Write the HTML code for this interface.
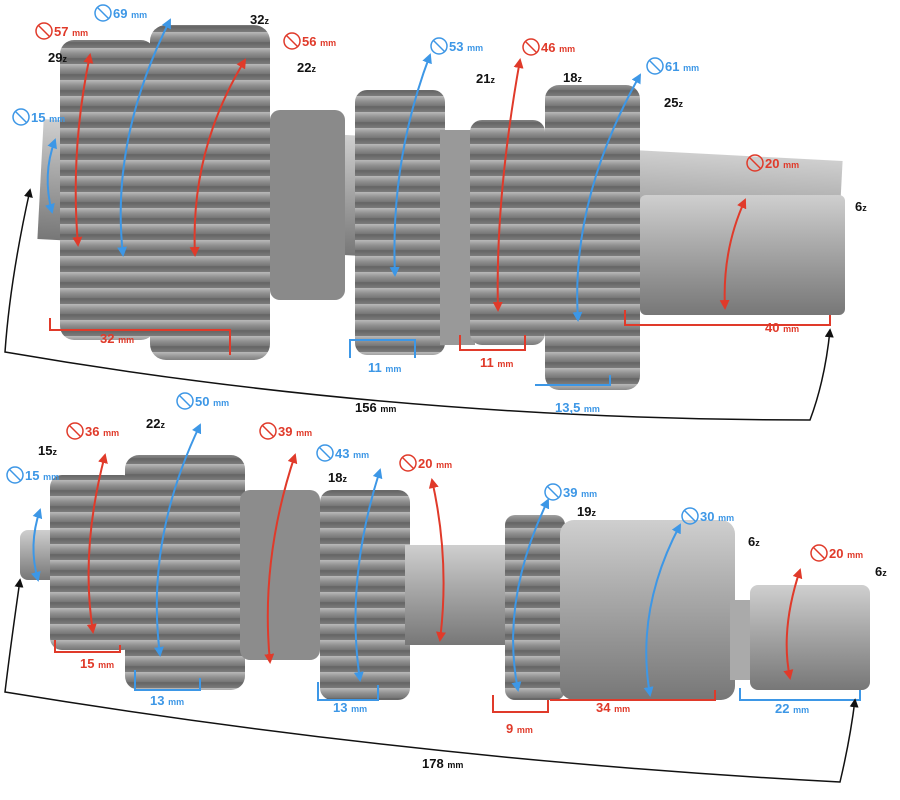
<!DOCTYPE html>
<html><head><meta charset="utf-8"><style>
body{margin:0;background:#fff}
svg{display:block}
text{font-family:"Liberation Sans",sans-serif;font-weight:bold}
.r{fill:#e03a2a}.b{fill:#3d97e6}.k{fill:#111}
.s{font-size:9px}
</style></head><body>
<svg width="900" height="800" viewBox="0 0 900 800" xmlns="http://www.w3.org/2000/svg">
<defs>
<linearGradient id="g" x1="0" y1="0" x2="0" y2="1">
<stop offset="0" stop-color="#b9b9b9"/><stop offset="0.35" stop-color="#8e8e8e"/><stop offset="0.7" stop-color="#6f6f6f"/><stop offset="1" stop-color="#9a9a9a"/></linearGradient>
<linearGradient id="sh" x1="0" y1="0" x2="0" y2="1">
<stop offset="0" stop-color="#cfcfcf"/><stop offset="0.4" stop-color="#ababab"/><stop offset="1" stop-color="#777"/></linearGradient>
<pattern id="t" width="12" height="16" patternUnits="userSpaceOnUse"><rect width="12" height="16" fill="url(#g)"/><rect y="10" width="12" height="6" fill="#5e5e5e" opacity=".5"/></pattern>
<marker id="ar" viewBox="0 0 10 10" refX="8" refY="5" markerWidth="5" markerHeight="5" orient="auto-start-reverse"><path d="M0 0L10 5L0 10z" fill="#e03a2a"/></marker>
<marker id="ab" viewBox="0 0 10 10" refX="8" refY="5" markerWidth="5" markerHeight="5" orient="auto-start-reverse"><path d="M0 0L10 5L0 10z" fill="#3d97e6"/></marker>
<marker id="ak" viewBox="0 0 10 10" refX="8" refY="5" markerWidth="6" markerHeight="6" orient="auto-start-reverse"><path d="M0 0L10 5L0 10z" fill="#111"/></marker>
</defs>
<rect x="40" y="140" width="800" height="120" fill="url(#sh)" transform="rotate(3 440 200)"/>
<rect x="640" y="195" width="205" height="120" rx="6" fill="url(#sh)"/>
<rect x="60" y="40" width="95" height="300" rx="14" fill="url(#t)"/>
<rect x="150" y="25" width="120" height="335" rx="16" fill="url(#t)"/>
<rect x="270" y="110" width="75" height="190" rx="10" fill="#8a8a8a"/>
<rect x="355" y="90" width="90" height="265" rx="12" fill="url(#t)"/>
<rect x="440" y="130" width="35" height="215" fill="#999"/>
<rect x="470" y="120" width="75" height="225" rx="12" fill="url(#t)"/>
<rect x="545" y="85" width="95" height="305" rx="14" fill="url(#t)"/>
<rect x="20" y="530" width="50" height="50" rx="8" fill="url(#sh)"/>
<rect x="50" y="475" width="85" height="175" rx="12" fill="url(#t)"/>
<rect x="125" y="455" width="120" height="235" rx="14" fill="url(#t)"/>
<rect x="240" y="490" width="80" height="170" rx="10" fill="#8c8c8c"/>
<rect x="320" y="490" width="90" height="210" rx="12" fill="url(#t)"/>
<rect x="405" y="545" width="110" height="100" fill="url(#sh)"/>
<rect x="505" y="515" width="60" height="185" rx="10" fill="url(#t)"/>
<rect x="560" y="520" width="175" height="180" rx="14" fill="url(#sh)"/>
<rect x="730" y="600" width="30" height="80" fill="#aaa"/>
<rect x="750" y="585" width="120" height="105" rx="8" fill="url(#sh)"/>

<g fill="none" stroke-width="2">
<g stroke="#e03a2a" marker-start="url(#ar)" marker-end="url(#ar)">
<path d="M90 55 Q70 150 78 245"/>
<path d="M245 60 Q190 150 195 255"/>
<path d="M520 60 Q495 200 498 310"/>
<path d="M745 200 Q722 250 725 308"/>
<path d="M105 455 Q80 550 93 632"/>
<path d="M295 455 Q260 560 270 662"/>
<path d="M432 480 Q450 560 440 640"/>
<path d="M800 570 Q780 630 790 678"/>
</g>
<g stroke="#e03a2a">
<path d="M50 318 V330 H230 V355"/>
<path d="M460 335 V350 H525 V335"/>
<path d="M625 310 V325 H830 V315"/>
<path d="M55 640 V652 H120 V645"/>
<path d="M493 695 V712 H548 V700"/>
<path d="M550 700 H715 V690"/>
</g>
<g stroke="#3d97e6" marker-start="url(#ab)" marker-end="url(#ab)">
<path d="M170 20 Q110 140 123 255"/>
<path d="M430 55 Q390 160 395 275"/>
<path d="M640 75 Q570 200 578 320"/>
<path d="M55 140 Q42 175 52 212"/>
<path d="M40 510 Q28 545 38 580"/>
<path d="M200 425 Q145 540 160 655"/>
<path d="M380 470 Q345 580 360 680"/>
<path d="M548 500 Q500 600 518 690"/>
<path d="M680 525 Q635 610 650 695"/>
</g>
<g stroke="#3d97e6">
<path d="M350 358 V340 H415 V358"/>
<path d="M535 385 H610 V375"/>
<path d="M135 670 V690 H200 V678"/>
<path d="M318 682 V700 H378 V685"/>
<path d="M740 688 V700 H860 V690"/>
</g>
<path d="M30 190 Q10 280 5 352 Q400 420 810 420 Q825 380 830 330" stroke="#111" stroke-width="1.5" marker-start="url(#ak)" marker-end="url(#ak)"/>
<path d="M20 580 Q10 650 5 692 Q420 760 840 782 Q850 740 855 700" stroke="#111" stroke-width="1.5" marker-start="url(#ak)" marker-end="url(#ak)"/>
</g>
<g fill="none" stroke-width="1.5">
<g stroke="#e03a2a">
<circle cx="44" cy="31" r="8"/><path d="M38 25L50 37"/>
<circle cx="292" cy="41" r="8"/><path d="M286 35L298 47"/>
<circle cx="531" cy="47" r="8"/><path d="M525 41L537 53"/>
<circle cx="755" cy="163" r="8"/><path d="M749 157L761 169"/>
<circle cx="75" cy="431" r="8"/><path d="M69 425L81 437"/>
<circle cx="268" cy="431" r="8"/><path d="M262 425L274 437"/>
<circle cx="408" cy="463" r="8"/><path d="M402 457L414 469"/>
<circle cx="819" cy="553" r="8"/><path d="M813 547L825 559"/>
</g>
<g stroke="#3d97e6">
<circle cx="103" cy="13" r="8"/><path d="M97 7L109 19"/>
<circle cx="439" cy="46" r="8"/><path d="M433 40L445 52"/>
<circle cx="655" cy="66" r="8"/><path d="M649 60L661 72"/>
<circle cx="21" cy="117" r="8"/><path d="M15 111L27 123"/>
<circle cx="185" cy="401" r="8"/><path d="M179 395L191 407"/>
<circle cx="325" cy="453" r="8"/><path d="M319 447L331 459"/>
<circle cx="553" cy="492" r="8"/><path d="M547 486L559 498"/>
<circle cx="690" cy="516" r="8"/><path d="M684 510L696 522"/>
<circle cx="15" cy="475" r="8"/><path d="M9 469L21 481"/>
</g>
</g>
<g font-size="13">
<text x="54" y="36" class="r">57 <tspan class="s">mm</tspan></text>
<text x="113" y="18" class="b">69 <tspan class="s">mm</tspan></text>
<text x="302" y="46" class="r">56 <tspan class="s">mm</tspan></text>
<text x="449" y="51" class="b">53 <tspan class="s">mm</tspan></text>
<text x="541" y="52" class="r">46 <tspan class="s">mm</tspan></text>
<text x="665" y="71" class="b">61 <tspan class="s">mm</tspan></text>
<text x="765" y="168" class="r">20 <tspan class="s">mm</tspan></text>
<text x="31" y="122" class="b">15 <tspan class="s">mm</tspan></text>
<text x="250" y="24" class="k">32<tspan class="s">z</tspan></text>
<text x="48" y="62" class="k">29<tspan class="s">z</tspan></text>
<text x="297" y="72" class="k">22<tspan class="s">z</tspan></text>
<text x="476" y="83" class="k">21<tspan class="s">z</tspan></text>
<text x="563" y="82" class="k">18<tspan class="s">z</tspan></text>
<text x="664" y="107" class="k">25<tspan class="s">z</tspan></text>
<text x="855" y="211" class="k">6<tspan class="s">z</tspan></text>
<text x="100" y="343" class="r">32 <tspan class="s">mm</tspan></text>
<text x="368" y="372" class="b">11 <tspan class="s">mm</tspan></text>
<text x="480" y="367" class="r">11 <tspan class="s">mm</tspan></text>
<text x="555" y="412" class="b">13,5 <tspan class="s">mm</tspan></text>
<text x="765" y="332" class="r">40 <tspan class="s">mm</tspan></text>
<text x="355" y="412" class="k">156 <tspan class="s">mm</tspan></text>
<text x="85" y="436" class="r">36 <tspan class="s">mm</tspan></text>
<text x="195" y="406" class="b">50 <tspan class="s">mm</tspan></text>
<text x="278" y="436" class="r">39 <tspan class="s">mm</tspan></text>
<text x="335" y="458" class="b">43 <tspan class="s">mm</tspan></text>
<text x="418" y="468" class="r">20 <tspan class="s">mm</tspan></text>
<text x="563" y="497" class="b">39 <tspan class="s">mm</tspan></text>
<text x="700" y="521" class="b">30 <tspan class="s">mm</tspan></text>
<text x="829" y="558" class="r">20 <tspan class="s">mm</tspan></text>
<text x="25" y="480" class="b">15 <tspan class="s">mm</tspan></text>
<text x="38" y="455" class="k">15<tspan class="s">z</tspan></text>
<text x="146" y="428" class="k">22<tspan class="s">z</tspan></text>
<text x="328" y="482" class="k">18<tspan class="s">z</tspan></text>
<text x="577" y="516" class="k">19<tspan class="s">z</tspan></text>
<text x="748" y="546" class="k">6<tspan class="s">z</tspan></text>
<text x="875" y="576" class="k">6<tspan class="s">z</tspan></text>
<text x="80" y="668" class="r">15 <tspan class="s">mm</tspan></text>
<text x="150" y="705" class="b">13 <tspan class="s">mm</tspan></text>
<text x="333" y="712" class="b">13 <tspan class="s">mm</tspan></text>
<text x="506" y="733" class="r">9 <tspan class="s">mm</tspan></text>
<text x="596" y="712" class="r">34 <tspan class="s">mm</tspan></text>
<text x="775" y="713" class="b">22 <tspan class="s">mm</tspan></text>
<text x="422" y="768" class="k">178 <tspan class="s">mm</tspan></text>
</g>
</svg>
</body></html>
